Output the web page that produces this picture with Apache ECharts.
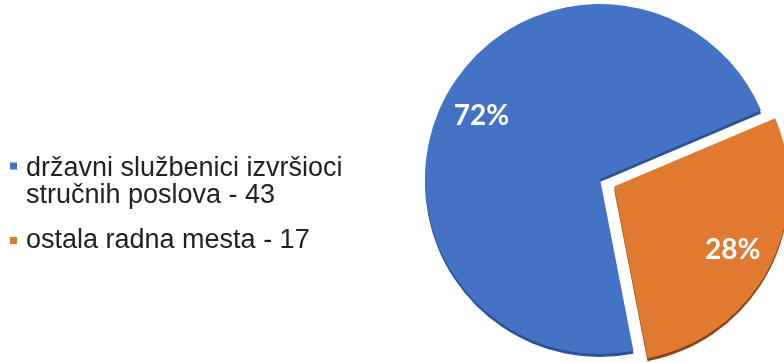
<!DOCTYPE html>
<html><head><meta charset="utf-8">
<script src="https://cdn.jsdelivr.net/npm/echarts@6/dist/echarts.min.js"></script>
<style>html,body{margin:0;padding:0;background:#fff}#c{width:784px;height:362px}</style>
</head><body><div id="c"></div>
<script>
const categories = ['državni službenici izvršioci stručnih poslova', 'ostala radna mesta'];
const legendLabels = ['državni službenici izvršioci\nstručnih poslova - 43', 'ostala radna mesta - 17'];
const values = [43, 17];
const colors = ['#4472C4', '#E07A30'];
const shadowColors = ['#2E5394', '#8A4515'];
const exploded = [false, true];

const chart = echarts.init(document.getElementById('c'), null, {renderer: 'canvas'});
const center = [600, 179];
const R = 175;
const startAngle = 281;
const offset = 16;

const mainData = categories.map((n, i) => ({
  name: n, value: values[i], selected: exploded[i],
  itemStyle: {
    color: colors[i], borderWidth: 0,
    shadowColor: shadowColors[i], shadowOffsetY: 3, shadowOffsetX: 0, shadowBlur: 0
  }
}));
const labelData = categories.map((n, i) => ({
  name: n, value: values[i], selected: exploded[i],
  itemStyle: {color: 'rgba(0,0,0,0)', borderWidth: 0}
}));

const icons = [
  'path://M0,0L0,0.01 M0,0.5L7,0.5L7,7.5L0,7.5Z M11,40L11,40.01',
  'path://M0,0L0,0.01 M0,16.5L7,16.5L7,23.5L0,23.5Z M11,40L11,40.01'
];

chart.setOption({
  animation: false,
  legend: {
    orient: 'vertical', left: 10, top: 155, padding: 0,
    itemWidth: 11, itemHeight: 40, itemGap: 11.5,
    selectedMode: false,
    itemStyle: {borderWidth: 0, shadowBlur: 0, shadowOffsetY: 0, shadowColor: 'transparent'},
    data: categories.map((n, i) => ({name: n, icon: icons[i]})),
    formatter: name => legendLabels[categories.indexOf(name)],
    textStyle: {fontFamily: 'Liberation Sans', fontSize: 27, lineHeight: 27, color: '#222'}
  },
  series: [
    {
      type: 'pie', center: center, radius: R, startAngle: startAngle,
      clockwise: true, selectedMode: 'multiple', selectedOffset: offset,
      avoidLabelOverlap: false, label: {show: false}, labelLine: {show: false},
      emphasis: {disabled: true}, silent: true,
      data: mainData
    },
    {
      type: 'pie', center: center, radius: [R * 0.5, R], startAngle: startAngle,
      clockwise: true, selectedMode: 'multiple', selectedOffset: offset,
      avoidLabelOverlap: false, percentPrecision: 0,
      label: {show: true, position: 'inside', formatter: '{d}%', color: '#fff',
        fontFamily: 'Lato', fontWeight: 'bold', fontSize: 28, padding: [0, 0, 6, 0]},
      labelLine: {show: false},
      emphasis: {disabled: true}, silent: true,
      data: labelData
    }
  ]
});
</script></body></html>
